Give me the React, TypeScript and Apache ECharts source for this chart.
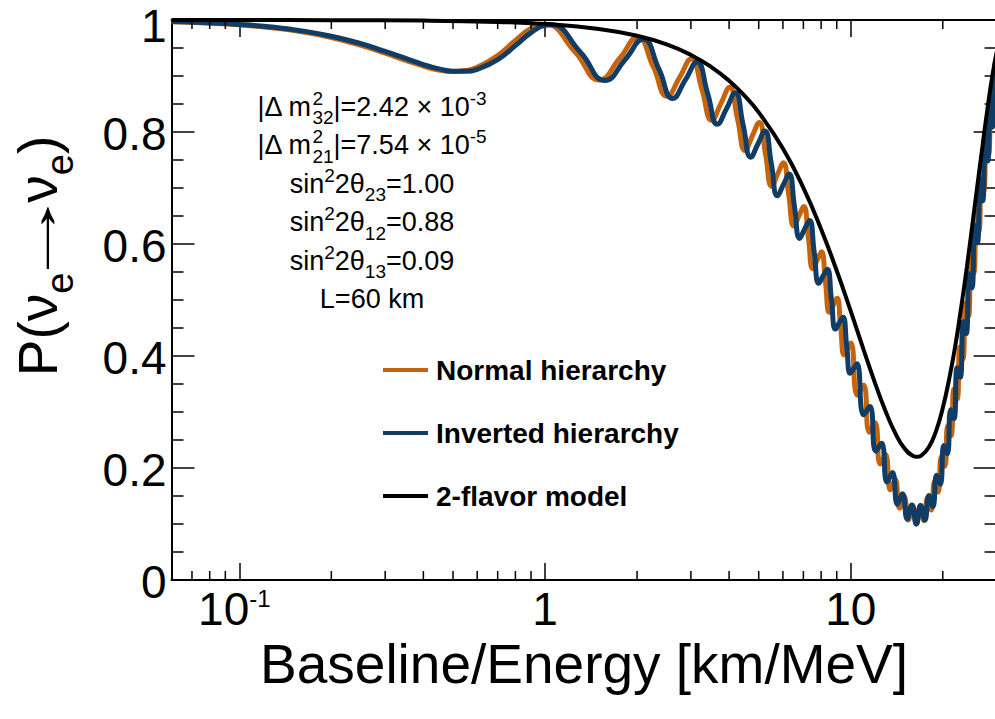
import React, { useEffect, useRef } from "react";
import * as echarts from "echarts";

const FONT = "Liberation Sans, Arial, Helvetica, sans-serif";

// L/E [km/MeV] and survival probability
const nhL = [0.06, 0.08, 0.1, 0.13, 0.16, 0.2, 0.25, 0.3, 0.35, 0.4, 0.45, 0.5, 0.55, 0.6, 0.7, 0.8, 0.9, 1.0,
  1.254, 1.505, 1.756, 2.007, 2.258, 2.509, 2.759, 3.010, 3.261, 3.512, 3.763, 4.013, 4.264, 4.515, 4.765, 5.016,
  5.266, 5.517, 5.767, 6.018, 6.268, 6.519, 6.769, 7.019, 7.269, 7.519, 7.769, 8.019, 8.269, 8.519, 8.769, 9.018,
  9.268, 9.517, 9.766, 10.016,
  10.513, 11.010, 11.506, 12.002, 12.495, 12.988, 13.479, 13.970, 14.457, 14.944, 15.429, 15.913, 16.397, 16.880,
  17.364, 17.849, 18.335, 18.823, 19.312, 19.803, 20.296, 20.790, 21.285, 21.781, 22.277, 22.775, 23.273, 23.772,
  24.271, 24.770, 25.270, 25.771, 26.271, 26.772, 27.272, 27.773, 28.275, 28.776, 29.278, 29.779, 30.281];
const nhP = [0.9968, 0.9944, 0.9914, 0.9858, 0.9791, 0.9688, 0.9548, 0.9407, 0.9280, 0.9176, 0.9108, 0.9081, 0.9097, 0.9155, 0.9367, 0.9633, 0.9847, 0.9922,
  0.943, 0.893, 0.932, 0.969, 0.917, 0.864, 0.898, 0.931, 0.876, 0.821, 0.851, 0.880, 0.823, 0.767, 0.793, 0.817,
  0.760, 0.703, 0.725, 0.745, 0.688, 0.632, 0.650, 0.667, 0.611, 0.556, 0.571, 0.586, 0.531, 0.478, 0.491, 0.503,
  0.452, 0.402, 0.413, 0.423,
  0.330, 0.348, 0.264, 0.281, 0.207, 0.224, 0.161, 0.180, 0.128, 0.149, 0.107, 0.133, 0.100, 0.133,
  0.106, 0.147, 0.125, 0.176, 0.157, 0.220, 0.203, 0.276, 0.258, 0.341, 0.323, 0.416, 0.395, 0.495,
  0.471, 0.578, 0.548, 0.659, 0.623, 0.737, 0.695, 0.809, 0.760, 0.874, 0.817, 0.927, 0.860];

const ihL = [0.06, 0.08, 0.1, 0.13, 0.16, 0.2, 0.25, 0.3, 0.35, 0.4, 0.45, 0.5, 0.55, 0.6, 0.7, 0.8, 0.9, 1.0, 1.047,
  1.308, 1.570, 1.832, 2.093, 2.355, 2.617, 2.878, 3.140, 3.402, 3.664, 3.926, 4.187, 4.449, 4.711, 4.973, 5.235,
  5.497, 5.759, 6.021, 6.284, 6.546, 6.808, 7.070, 7.333, 7.595, 7.858, 8.121, 8.384, 8.647, 8.909, 9.173, 9.436,
  9.699, 9.963, 10.227,
  10.491, 11.019, 11.549, 12.080, 12.612, 13.146, 13.682, 14.220, 14.760, 15.302, 15.846, 16.390, 16.936, 17.479,
  18.023, 18.562, 19.101, 19.637, 20.172, 20.704, 21.235, 21.765, 22.294, 22.822, 23.349, 23.876, 24.402, 24.927,
  25.452, 25.977, 26.502, 27.026, 27.550, 28.074, 28.598, 29.122, 29.645, 30.169];
const ihP = [0.9971, 0.9949, 0.9921, 0.9869, 0.9806, 0.9710, 0.9577, 0.9440, 0.9313, 0.9205, 0.9127, 0.9085, 0.9083, 0.9119, 0.9292, 0.9542, 0.9775, 0.9904, 0.9914,
  0.942, 0.892, 0.930, 0.966, 0.913, 0.860, 0.893, 0.925, 0.869, 0.814, 0.842, 0.870, 0.812, 0.755, 0.779, 0.802,
  0.744, 0.686, 0.706, 0.725, 0.667, 0.610, 0.627, 0.642, 0.585, 0.530, 0.543, 0.555, 0.501, 0.448, 0.459, 0.469,
  0.418, 0.369, 0.378,
  0.386, 0.295, 0.310, 0.230, 0.244, 0.175, 0.192, 0.135, 0.154, 0.109, 0.134, 0.100, 0.133, 0.107,
  0.151, 0.131, 0.187, 0.171, 0.240, 0.225, 0.304, 0.288, 0.379, 0.362, 0.461, 0.440, 0.547, 0.522,
  0.633, 0.602, 0.716, 0.677, 0.794, 0.748, 0.863, 0.809, 0.920, 0.856];

const flavL = [0.06, 0.1, 0.2, 0.4, 0.7, 1, 1.5, 2, 2.5, 3, 3.5, 4, 4.5, 5, 6, 7, 8, 9, 10, 11, 12, 13, 14, 15, 16,
  16.44, 17, 18, 19, 20, 21, 22, 23, 24, 25, 26, 27, 28, 29, 30];
const flavP = [0.9999, 0.9999, 0.9997, 0.9989, 0.9965, 0.9929, 0.9841, 0.9719, 0.9564, 0.9376, 0.9160, 0.8915,
  0.8644, 0.8351, 0.7705, 0.7003, 0.6265, 0.5522, 0.4801, 0.4124, 0.3521, 0.3013, 0.2618, 0.2347, 0.2214,
  0.2200, 0.2222, 0.2372, 0.2654, 0.3072, 0.3595, 0.4195, 0.4888, 0.5602, 0.6350, 0.7077, 0.7765, 0.8412,
  0.8975, 0.9424];

const seriesNames = ["Normal hierarchy", "Inverted hierarchy", "2-flavor model"];
const seriesColors = ["#c6640e", "#0f3d66", "#000000"];

const xMajorTicks = [0.1, 1, 10];
const xTickLabels = ["{b|10}{s|-1}", "{b|1}", "{b|10}"];
const xMinorTicks = [0.07, 0.08, 0.09, 0.2, 0.3, 0.4, 0.5, 0.6, 0.7, 0.8, 0.9, 2, 3, 4, 5, 6, 7, 8, 9, 20, 30];
const yTickLabels = ["{n|0}", "{n|0.2}", "{n|0.4}", "{n|0.6}", "{n|0.8}", "{t|1}"];

type Seg = { k: "n" | "sup" | "sub" | "ss" | "gap" | "wide"; t?: string; sup?: string; sub?: string; len?: number; sx?: number; w?: number };

const annotationLines: Seg[][] = [
  [{ k: "n", t: "|\u0394 m" }, { k: "ss", sup: "2", sub: "32" }, { k: "n", t: "|=2.42 \u00d7 10" }, { k: "sup", t: "-3" }],
  [{ k: "n", t: "|\u0394 m" }, { k: "ss", sup: "2", sub: "21" }, { k: "n", t: "|=7.54 \u00d7 10" }, { k: "sup", t: "-5" }],
  [{ k: "n", t: "sin" }, { k: "sup", t: "2" }, { k: "n", t: "2\u03b8" }, { k: "sub", t: "23" }, { k: "n", t: "=1.00" }],
  [{ k: "n", t: "sin" }, { k: "sup", t: "2" }, { k: "n", t: "2\u03b8" }, { k: "sub", t: "12" }, { k: "n", t: "=0.88" }],
  [{ k: "n", t: "sin" }, { k: "sup", t: "2" }, { k: "n", t: "2\u03b8" }, { k: "sub", t: "13" }, { k: "n", t: "=0.09" }],
  [{ k: "n", t: "L=60 km" }],
];
const annotationBaselines = [116, 154.5, 193, 231.5, 270, 308.5];

const yTitle: Seg[] = [
  { k: "n", t: "P(\u03bd" }, { k: "sub", t: "e" }, { k: "gap", w: 9 },
  { k: "wide", t: "\u2192", len: 52, sx: 1.9 }, { k: "gap", w: 9 },
  { k: "n", t: "\u03bd" }, { k: "sub", t: "e" }, { k: "n", t: ")" },
];

let measureCtx: CanvasRenderingContext2D | null = null;
function textWidth(t: string, size: number): number {
  if (!measureCtx) measureCtx = document.createElement("canvas").getContext("2d");
  if (!measureCtx) return t.length * size * 0.55;
  measureCtx.font = `${size}px ${FONT}`;
  return measureCtx.measureText(t).width;
}

function buildRun(segs: Seg[], size: number, scriptSize: number) {
  const children: any[] = [];
  let x = 0;
  const mk = (text: string, lx: number, base: number, fs: number, sx = 1, align = "left") => ({
    type: "text",
    x: lx,
    y: base - 0.3465 * fs,
    scaleX: sx,
    silent: true,
    style: { text, fontSize: fs, fontFamily: FONT, fill: "#000", align, verticalAlign: "middle" },
  });
  const supBase = -0.42 * size;
  const subBase = 0.3 * size;
  for (const s of segs) {
    if (s.k === "gap") {
      x += s.w || 0;
    } else if (s.k === "wide") {
      const L = s.len || size;
      children.push(mk(s.t!, x + L / 2, 0, size, s.sx || 1, "center"));
      x += L;
    } else if (s.k === "n") {
      children.push(mk(s.t!, x, 0, size));
      x += textWidth(s.t!, size);
    } else if (s.k === "sup") {
      children.push(mk(s.t!, x, supBase, scriptSize));
      x += textWidth(s.t!, scriptSize);
    } else if (s.k === "sub") {
      children.push(mk(s.t!, x, subBase, scriptSize));
      x += textWidth(s.t!, scriptSize);
    } else {
      children.push(mk(s.sup!, x, supBase, scriptSize));
      children.push(mk(s.sub!, x, subBase, scriptSize));
      x += Math.max(textWidth(s.sup!, scriptSize), textWidth(s.sub!, scriptSize));
    }
  }
  children.forEach((c) => (c.x -= x / 2));
  return children;
}

function buildOption(): any {
  const axisLine = { show: true, onZero: false, lineStyle: { color: "#000", width: 2 } };
  const tickStyle = { color: "#000", width: 1.5 };
  const xFormatter = (v: number) => {
    const i = xMajorTicks.findIndex((t) => Math.abs(Math.log10(v) - Math.log10(t)) < 1e-6);
    return i < 0 ? "" : xTickLabels[i];
  };
  const yFormatter = (v: number) => {
    const i = Math.round(v / 0.2);
    return Math.abs(v - i * 0.2) < 1e-6 ? yTickLabels[i] : "";
  };

  const graphics: any[] = [];
  annotationLines.forEach((line, i) => {
    graphics.push({ type: "group", x: 372, y: annotationBaselines[i], children: buildRun(line, 27, 19) });
  });
  graphics.push({ type: "group", x: 57, y: 256, rotation: Math.PI / 2, children: buildRun(yTitle, 55, 38) });

  const zip = (xs: number[], ys: number[]) => xs.slice(0, Math.min(xs.length, ys.length)).map((x, i) => [x, ys[i]]);

  return {
    animation: false,
    backgroundColor: "#ffffff",
    textStyle: { fontFamily: FONT },
    grid: { left: 171.5, top: 20, width: 825.1, height: 560, containLabel: false },
    legend: {
      data: seriesNames,
      orient: "vertical",
      left: 383,
      top: 354,
      padding: 0,
      itemWidth: 45,
      itemHeight: 4,
      itemGap: 31,
      icon: "rect",
      selectedMode: false,
      lineStyle: { width: 4 },
      textStyle: { fontSize: 28, fontWeight: "bold", color: "#000", fontFamily: FONT, lineHeight: 32, padding: [0, 0, 0, 3] },
    },
    xAxis: [
      {
        type: "log",
        logBase: 10,
        min: 0.06,
        max: 30,
        position: "bottom",
        axisLine,
        axisTick: { show: true, inside: true, length: 17, lineStyle: tickStyle },
        minorTick: { show: false },
        splitLine: { show: false },
        axisLabel: {
          show: true,
          margin: 6,
          color: "#000",
          fontSize: 46,
          fontFamily: FONT,
          formatter: xFormatter,
          rich: {
            b: { fontSize: 46, fontFamily: FONT, color: "#000" },
            s: { fontSize: 24, fontFamily: FONT, color: "#000", verticalAlign: "top", padding: [0, 10, 0, 0] },
          },
        },
        name: "Baseline/Energy [km/MeV]",
        nameLocation: "middle",
        nameGap: 56,
        nameTextStyle: { fontSize: 55, color: "#000", fontFamily: FONT },
      },
      {
        type: "log",
        logBase: 10,
        min: 0.06,
        max: 30,
        position: "top",
        axisLine,
        axisTick: { show: true, inside: true, length: 17, lineStyle: tickStyle },
        minorTick: { show: false },
        splitLine: { show: false },
        axisLabel: { show: false },
      },
    ],
    yAxis: [
      {
        type: "value",
        min: 0,
        max: 1,
        interval: 0.2,
        position: "left",
        axisLine,
        axisTick: { show: true, inside: true, length: 23, lineStyle: tickStyle },
        minorTick: { show: true, splitNumber: 4, length: 12, lineStyle: tickStyle },
        splitLine: { show: false },
        axisLabel: {
          margin: 5,
          color: "#000",
          fontSize: 46,
          fontFamily: FONT,
          formatter: yFormatter,
          rich: {
            n: { fontSize: 46, fontFamily: FONT, color: "#000", padding: [4, 0, 0, 0] },
            t: { fontSize: 46, fontFamily: FONT, color: "#000", padding: [12, 0, 0, 0] },
          },
        },
      },
      {
        type: "value",
        min: 0,
        max: 1,
        interval: 0.2,
        position: "right",
        axisLine,
        axisTick: { show: true, inside: true, length: 23, lineStyle: tickStyle },
        minorTick: { show: true, splitNumber: 4, length: 12, lineStyle: tickStyle },
        splitLine: { show: false },
        axisLabel: { show: false },
      },
    ],
    series: [
      {
        name: "minor ticks",
        type: "custom",
        xAxisIndex: 0,
        yAxisIndex: 0,
        silent: true,
        clip: false,
        z: 4,
        data: xMinorTicks.map((v) => [v, 0]),
        encode: { x: 0, y: 1 },
        renderItem: (_p: any, api: any) => {
          const v = api.value(0);
          const b = api.coord([v, 0]);
          const t = api.coord([v, 1]);
          const st = { stroke: "#000", lineWidth: 1.5 };
          return {
            type: "group",
            children: [
              { type: "line", shape: { x1: b[0], y1: b[1], x2: b[0], y2: b[1] - 9 }, style: st },
              { type: "line", shape: { x1: t[0], y1: t[1], x2: t[0], y2: t[1] + 9 }, style: st },
            ],
          };
        },
      },
      {
        name: seriesNames[0],
        type: "line",
        data: zip(nhL, nhP),
        showSymbol: false,
        symbol: "none",
        smooth: 0.5,
        color: seriesColors[0],
        lineStyle: { color: seriesColors[0], width: 5 },
        z: 3,
      },
      {
        name: seriesNames[1],
        type: "line",
        data: zip(ihL, ihP),
        showSymbol: false,
        symbol: "none",
        smooth: 0.5,
        color: seriesColors[1],
        lineStyle: { color: seriesColors[1], width: 5 },
        z: 3,
      },
      {
        name: seriesNames[2],
        type: "line",
        data: zip(flavL, flavP),
        showSymbol: false,
        symbol: "none",
        smooth: 0.5,
        color: seriesColors[2],
        lineStyle: { color: seriesColors[2], width: 4 },
        z: 3,
      },
    ],
    graphic: { elements: graphics },
  };
}

export default function App() {
  const ref = useRef<HTMLDivElement>(null);
  useEffect(() => {
    if (!ref.current) return;
    const chart = echarts.init(ref.current, undefined, { renderer: "svg" });
    chart.setOption(buildOption());
    return () => chart.dispose();
  }, []);
  return (
    <div style={{ position: "fixed", left: 0, top: 0, width: 995, height: 719, overflow: "hidden", background: "#fff" }}>
      <div ref={ref} style={{ width: 1000, height: 719 }} />
    </div>
  );
}
